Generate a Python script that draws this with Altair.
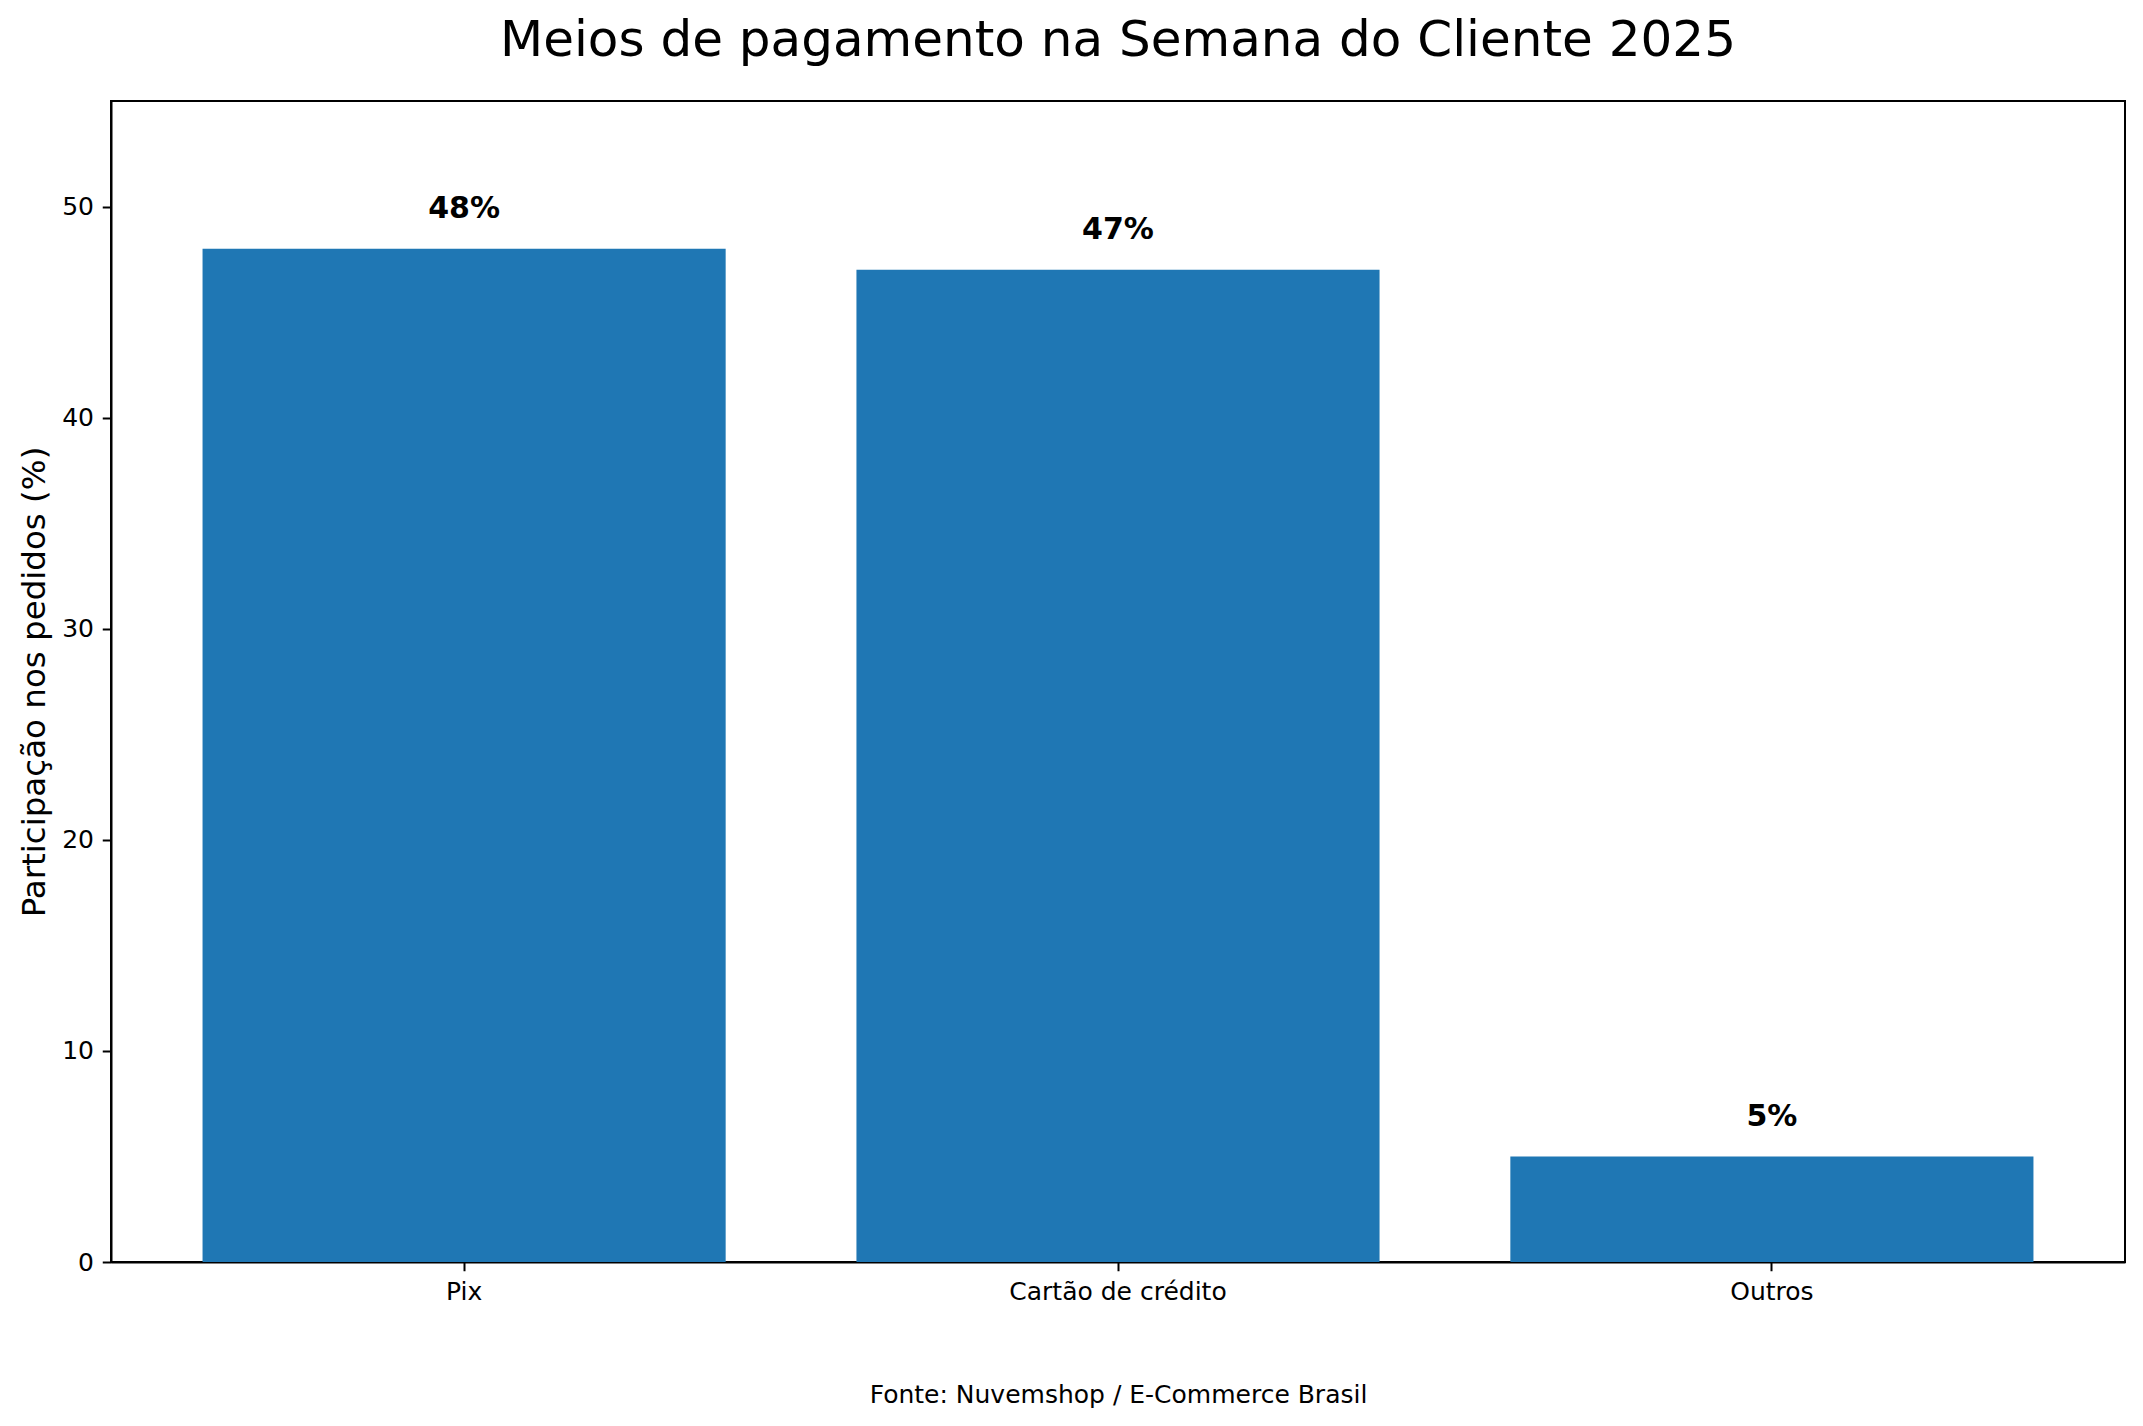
import altair as alt
import pandas as pd

categorias = ["Pix", "Cartão de crédito", "Outros"]
valores = [48, 47, 5]
rotulos = ["48%", "47%", "5%"]

df = pd.DataFrame({"categoria": categorias, "valor": valores, "rotulo": rotulos})

FONT = "DejaVu Sans"
W, H = 2014, 1161

x_enc = alt.X(
    "categoria:N",
    sort=categorias,
    scale=alt.Scale(paddingInner=0.2, paddingOuter=0.14),
    axis=alt.Axis(
        title="Fonte: Nuvemshop / E-Commerce Brasil",
        labelAngle=0,
        labelPadding=8.5,
        labelLimit=2000,
        titleFontSize=25,
        titleFontWeight="normal",
        titleFont=FONT,
        titleColor="black",
        titleBaseline="alphabetic",
        titleY=140.7,
    ),
)
y_enc = alt.Y(
    "valor:Q",
    scale=alt.Scale(domain=[0, 55], nice=False, zero=True),
    axis=alt.Axis(
        title="Participação nos pedidos (%)",
        values=[0, 10, 20, 30, 40, 50],
        labelPadding=8.75,
        titleFontSize=32.5,
        titleFontWeight="normal",
        titleFont=FONT,
        titleColor="black",
        titleAngle=270,
        titleBaseline="alphabetic",
        titleX=-66.2,
    ),
)

bars = alt.Chart(df).mark_bar(color="#1f77b4").encode(x=x_enc, y=y_enc)

texts = alt.Chart(df).mark_text(
    baseline="alphabetic", align="center", dy=-30.7,
    fontSize=30, fontWeight="bold", font=FONT, color="black",
).encode(
    x=alt.X("categoria:N", sort=categorias),
    y=alt.Y("valor:Q"),
    text="rotulo:N",
)

chart = alt.layer(bars, texts).properties(
    width=W,
    height=H,
    title=alt.TitleParams(
        text="Meios de pagamento na Semana do Cliente 2025",
        fontSize=50, font=FONT, fontWeight="normal", color="black",
        anchor="middle", baseline="alphabetic", offset=0, dy=5,
    ),
    autosize=alt.AutoSizeParams(type="none"),
    padding={"left": 103, "top": 93, "right": 10, "bottom": 156},
).configure_view(
    stroke="black", strokeWidth=2,
).configure_axis(
    grid=False,
    domainColor="black", domainWidth=2,
    tickColor="black", tickWidth=2, tickSize=8.75,
    labelFontSize=25, labelFont=FONT, labelColor="black",
)

chart.save("out.html", embed_options={"renderer": "svg", "actions": False})
